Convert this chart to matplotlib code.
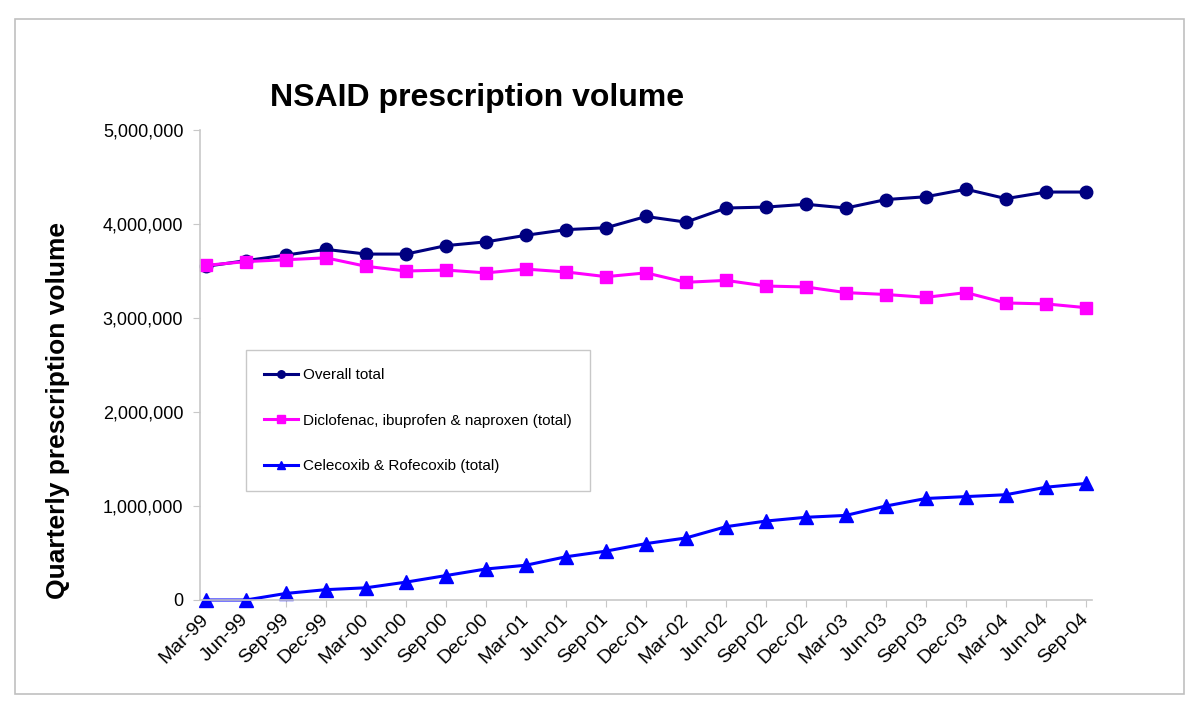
import matplotlib
matplotlib.use("Agg")
import matplotlib.pyplot as plt
from matplotlib.patches import Rectangle
from matplotlib.ticker import StrMethodFormatter

plt.rcParams['font.family'] = ['Liberation Sans', 'DejaVu Sans']

# quarterly labels
quarters = ['Mar-99', 'Jun-99', 'Sep-99', 'Dec-99', 'Mar-00', 'Jun-00', 'Sep-00', 'Dec-00',
            'Mar-01', 'Jun-01', 'Sep-01', 'Dec-01', 'Mar-02', 'Jun-02', 'Sep-02', 'Dec-02',
            'Mar-03', 'Jun-03', 'Sep-03', 'Dec-03', 'Mar-04', 'Jun-04', 'Sep-04']

# values
overall_total = [3550000, 3610000, 3670000, 3730000, 3680000, 3680000, 3770000, 3810000,
                 3880000, 3940000, 3960000, 4080000, 4020000, 4170000, 4180000, 4210000,
                 4170000, 4260000, 4290000, 4370000, 4270000, 4340000, 4340000]
dic_ibu_nap = [3560000, 3600000, 3620000, 3640000, 3550000, 3500000, 3510000, 3480000,
               3520000, 3490000, 3440000, 3480000, 3380000, 3400000, 3340000, 3330000,
               3270000, 3250000, 3220000, 3270000, 3160000, 3150000, 3110000]
cele_rofe = [0, 0, 70000, 110000, 130000, 190000, 260000, 330000,
             370000, 460000, 520000, 600000, 660000, 780000, 840000, 880000,
             900000, 1000000, 1080000, 1100000, 1120000, 1200000, 1240000]

series_labels = ['Overall total', 'Diclofenac, ibuprofen & naproxen (total)',
                 'Celecoxib & Rofecoxib (total)']

fig = plt.figure(figsize=(12, 7.15), dpi=100)
ax = fig.add_axes([200 / 1200, 115 / 715, 892 / 1200, 470 / 715])

x = list(range(len(quarters)))
ax.plot(x, overall_total, color='#000080', lw=2.2, marker='o', ms=9, label=series_labels[0],
        clip_on=False)
ax.plot(x, dic_ibu_nap, color='#FF00FF', lw=2.2, marker='s', ms=9, label=series_labels[1],
        clip_on=False)
ax.plot(x, cele_rofe, color='#0000FF', lw=2.2, marker='^', ms=9.5, label=series_labels[2],
        clip_on=False)

ax.set_xlim(-0.15, len(quarters) - 0.85)
ax.set_ylim(0, 5000000)
ax.set_yticks([0, 1000000, 2000000, 3000000, 4000000, 5000000])
ax.yaxis.set_major_formatter(StrMethodFormatter('{x:,.0f}'))
ax.set_xticks(x)
ax.set_xticklabels(quarters, rotation=45, ha='right', va='center', rotation_mode='anchor')

for s in ['top', 'right']:
    ax.spines[s].set_visible(False)
for s in ['left', 'bottom']:
    ax.spines[s].set_color('#c8c8c8')
    ax.spines[s].set_linewidth(1.2)
ax.tick_params(axis='y', colors='#c8c8c8', labelcolor='black', labelsize=13, length=5, pad=7)
ax.tick_params(axis='x', colors='#c8c8c8', labelcolor='black', labelsize=14, length=5, pad=7)

ax.set_ylabel('Quarterly prescription volume', fontsize=19, fontweight='bold')
ax.yaxis.set_label_coords(70 / 1200, 0.426, transform=fig.transFigure)

fig.text(477 / 1200, (715 - 106) / 715, 'NSAID prescription volume', fontsize=23,
         fontweight='bold', ha='center', va='baseline')

leg = ax.legend(loc='upper left', bbox_to_anchor=(46 / 892, 250 / 470), borderaxespad=0,
                fontsize=11, handlelength=2.2, handletextpad=0.3, labelspacing=2.05,
                borderpad=1.2, markerscale=0.6, fancybox=False, framealpha=1)
leg.get_frame().set_edgecolor('#c8c8c8')
leg.get_frame().set_linewidth(1.0)

# outer chart border
fig.patches.append(Rectangle((15 / 1200, 21 / 715), 1169 / 1200, 675 / 715,
                             transform=fig.transFigure, fill=False,
                             edgecolor='#c0c0c0', linewidth=1.2))

fig.savefig('out.png', dpi=100)
